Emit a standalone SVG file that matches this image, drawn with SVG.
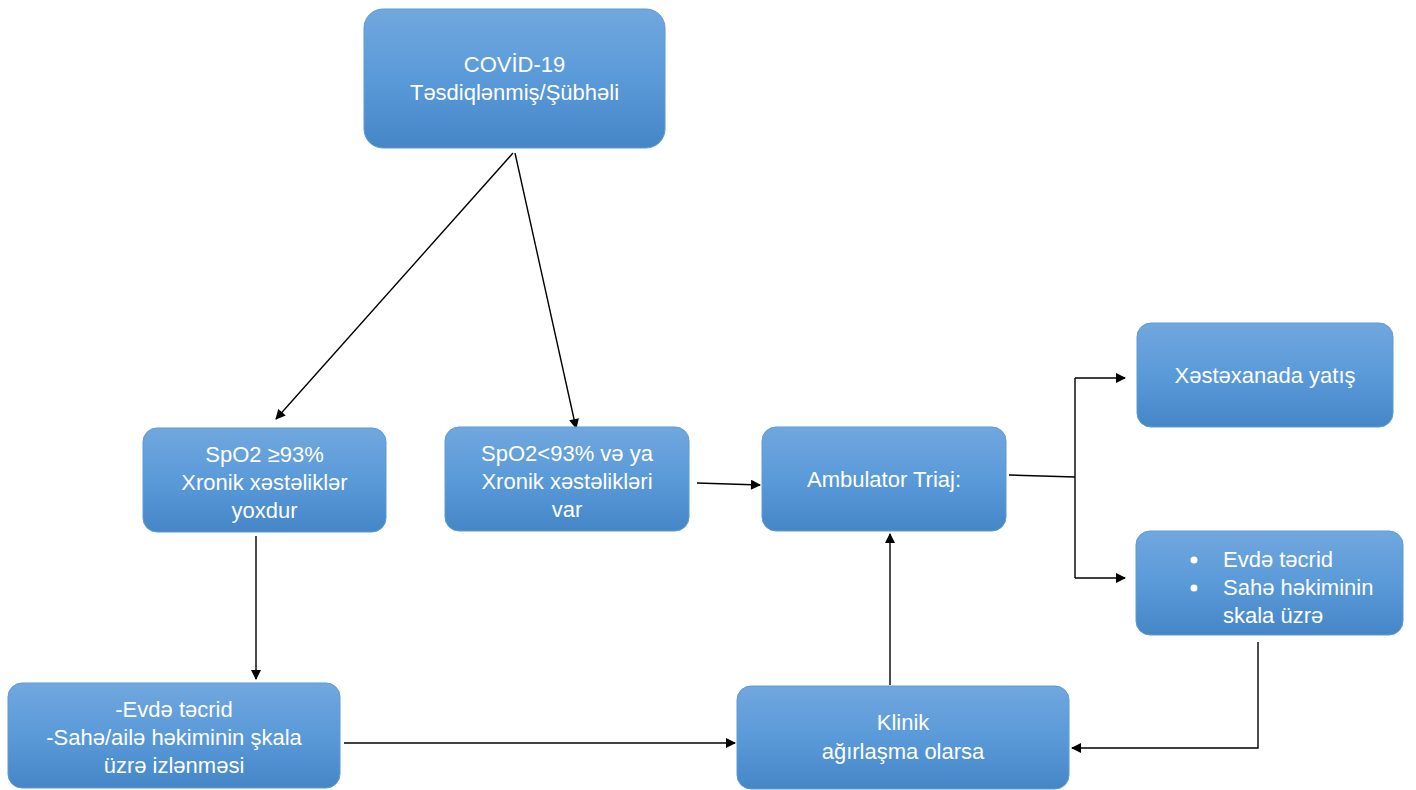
<svg xmlns="http://www.w3.org/2000/svg" width="1416" height="790" viewBox="0 0 1416 790">
<style>
.box{fill:url(#g);stroke:#5b9bd5;stroke-width:1}
.t{font-family:"Liberation Sans",Arial,sans-serif;font-size:22px;fill:#fff;text-anchor:middle}
.l{text-anchor:start}
.c{stroke:#000;stroke-width:1.4;fill:none}
.ca{stroke:#000;stroke-width:1.4;fill:none;marker-end:url(#a)}
</style>
<defs>
<linearGradient id="g" x1="0" y1="0" x2="0" y2="1">
<stop offset="0" stop-color="#71a7de"/>
<stop offset="0.5" stop-color="#5a9ad9"/>
<stop offset="1" stop-color="#4586c7"/>
</linearGradient>
<marker id="a" viewBox="0 0 10 10" refX="9" refY="5" markerWidth="11" markerHeight="10" markerUnits="userSpaceOnUse" orient="auto">
<path d="M0,0 L10,5 L0,10 z" fill="#000"/>
</marker>
</defs>
<g id="connectors">
<line class="ca" x1="513" y1="153" x2="276" y2="419"/>
<line class="ca" x1="515" y1="153" x2="576" y2="428"/>
<line class="ca" x1="256" y1="536" x2="256" y2="679"/>
<line class="ca" x1="344" y1="743" x2="735" y2="743"/>
<line class="ca" x1="697" y1="483" x2="760" y2="485"/>
<line class="ca" x1="890" y1="685" x2="890" y2="534"/>
<line class="c" x1="1009" y1="475" x2="1075" y2="477"/>
<line class="c" x1="1075" y1="378" x2="1075" y2="578"/>
<line class="ca" x1="1075" y1="378" x2="1125" y2="378"/>
<line class="ca" x1="1075" y1="578" x2="1125" y2="578"/>
<polyline class="ca" points="1258,642 1258,748 1072,748"/>
</g>
<g id="n1"><rect class="box" x="364" y="9" width="301" height="139" rx="19"/>
<text class="t" x="514.5" y="72">COVİD-19</text><text class="t" x="514.5" y="100">Təsdiqlənmiş/Şübhəli</text></g>
<g id="n2"><rect class="box" x="143" y="428" width="243" height="104" rx="14"/>
<text class="t" x="264.5" y="462">SpO2 ≥93%</text><text class="t" x="264.5" y="490">Xronik xəstəliklər</text><text class="t" x="264.5" y="518">yoxdur</text></g>
<g id="n3"><rect class="box" x="445" y="427" width="244" height="104" rx="14"/>
<text class="t" x="567" y="461">SpO2&lt;93% və ya</text><text class="t" x="567" y="489">Xronik xəstəlikləri</text><text class="t" x="567" y="517">var</text></g>
<g id="n4"><rect class="box" x="762" y="427" width="244" height="104" rx="14"/>
<text class="t" x="884" y="487">Ambulator Triaj:</text></g>
<g id="n5"><rect class="box" x="1137" y="323" width="256" height="104" rx="14"/>
<text class="t" x="1265" y="383">Xəstəxanada yatış</text></g>
<g id="n6"><rect class="box" x="1136" y="531" width="267" height="104" rx="14"/>
<circle cx="1194" cy="560" r="3.5" fill="#fff"/><circle cx="1194" cy="588" r="3.5" fill="#fff"/>
<text class="t l" x="1223" y="567">Evdə təcrid</text>
<text class="t l" x="1223" y="595">Sahə həkiminin</text>
<text class="t l" x="1223" y="623">skala üzrə</text></g>
<g id="n7"><rect class="box" x="8" y="683" width="332" height="105" rx="14"/>
<text class="t" x="174" y="717">-Evdə təcrid</text><text class="t" x="174" y="745">-Sahə/ailə həkiminin şkala</text><text class="t" x="174" y="773">üzrə izlənməsi</text></g>
<g id="n8"><rect class="box" x="737" y="686" width="332" height="103" rx="14"/>
<text class="t" x="903" y="730">Klinik</text><text class="t" x="903" y="759">ağırlaşma olarsa</text></g>
</svg>
